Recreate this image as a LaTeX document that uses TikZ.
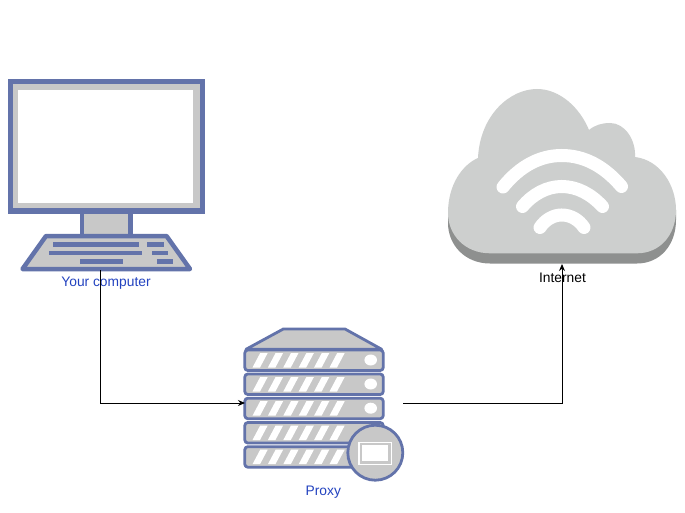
\documentclass[tikz,border=0pt]{standalone}
\usepackage{fontspec}
\setmainfont{Liberation Sans}
\usetikzlibrary{arrows.meta}
\definecolor{edgeblue}{HTML}{6373AA}
\definecolor{bodygray}{HTML}{C8C8C8}
\definecolor{cloudlight}{HTML}{CDCFCE}
\definecolor{clouddark}{HTML}{8E908F}
\definecolor{labelblue}{HTML}{2343C0}
\tikzset{
  hull/.style={draw=edgeblue,fill=bodygray,line join=round},
  thinhull/.style={hull,line width=2.8pt},
  bar/.style={fill=edgeblue,draw=none},
  stripe/.style={fill=white,draw=none},
  wave/.style={draw=white,line width=13pt,line cap=round},
  holder/.style={draw=none,fill=none,inner sep=0pt,outer sep=0pt},
  caption/.style={inner sep=0pt,font=\fontsize{13.8}{16}\selectfont},
  wire/.style={draw=black,line width=1pt,-{Stealth[length=7pt,width=6pt]}}
}
\begin{document}
\begin{tikzpicture}[x=1pt,y=-1pt]
\useasboundingbox (0,0) rectangle (685,513);
\fill[white] (0,0) rectangle (685,513);
% invisible anchors
\node[holder,minimum width=184pt,minimum height=191pt] (pc) at (100,174.5) {};
\node[holder,minimum width=158pt,minimum height=150pt] (proxy) at (324,403) {};
\node[holder,minimum width=228pt,minimum height=175pt] (cloud) at (562,176.5) {};
% computer
\draw[hull,line width=5pt,line join=miter] (10.5,81.5) rectangle (202.5,211);
\fill[white] (17.5,90) rectangle (192.5,203);
\draw[hull,line width=4.5pt,line join=miter] (82,212) rectangle (130.5,236);
\draw[hull,line width=4.5pt] (46,236) -- (166.5,236) -- (190,269) -- (22.5,269) -- cycle;
\foreach \xa/\xb/\ya in {53.3/139.3/242,147/164/242,48.7/142/250.7,151.7/168.3/250.7,80/123/259.3,156.7/173.3/259.3}{
  \fill[bar] (\xa,\ya) rectangle (\xb,\ya+4.7);
}
% proxy
\draw[thinhull] (283.3,329) -- (345,329) -- (381.7,349.3) -- (246,349.3) -- cycle;
\foreach \yy in {350,374,398.2,422.5,446.7}{
  \draw[thinhull,rounded corners=3pt] (244.8,\yy) rectangle (383.2,\yy+20.5);
  \foreach \i in {0,...,5}{
    \fill[stripe] (252.5+15.4*\i,\yy+17.5) -- (260+15.4*\i,\yy+17.5)
      -- (267.7+15.4*\i,\yy+3) -- (260.2+15.4*\i,\yy+3) -- cycle;
  }
}
\foreach \yy in {360,384,408.2}{
  \fill[white] (370.7,\yy) ellipse [x radius=6.3,y radius=5.5];
}
\draw[thinhull] (375.3,452.7) circle [radius=27.5];
\fill[white] (358.3,441.5) rectangle (392,465);
\draw[draw=bodygray,fill=white,line width=2.6pt] (361,444) rectangle (389.5,462.5);
% cloud
\fill[clouddark] (448,213) -- (448,223) .. controls (448,245) and (465,263.5) .. (490,263.5) -- (637,263.5)
  .. controls (660,263.5) and (676,245) .. (676,220) -- (676,210) -- cycle;
\fill[cloudlight] (478,158) .. controls (480,115) and (510,89) .. (537,89)
  .. controls (560,89) and (580,108) .. (589,130)
  .. controls (595,125) and (602,123) .. (610,123)
  .. controls (625,123) and (636,140) .. (635,157)
  .. controls (660,160) and (676,185) .. (676,210)
  .. controls (676,235) and (660,253.3) .. (637,253.3)
  -- (490,253.3)
  .. controls (465,253.3) and (448,235) .. (448,213)
  .. controls (448,185) and (462,165) .. (478,158) -- cycle;
\draw[wave] (503,187) .. controls (520,166) and (540,155.5) .. (561.7,155.5) .. controls (584,155.5) and (604,166) .. (621.5,186.5);
\draw[wave] (522.5,206.5) .. controls (533,194) and (547,186.5) .. (561.7,186.5) .. controls (577,186.5) and (591,194) .. (602.5,206.5);
\draw[wave] (540,227.5) .. controls (545,220) and (553,215) .. (561.7,215) .. controls (571,215) and (579,220) .. (584,227.5);
% labels
\node[caption,text=labelblue] (pclabel) at (106,283) {Your computer};
\node[caption,text=labelblue] (proxylabel) at (323.3,492) {Proxy};
\node[caption,text=black] (cloudlabel) at (562.5,278) {Internet};
% connectors
\draw[wire] (pc.south) |- (proxy.west);
\draw[wire] (proxy.east) -| (cloud.south);
\end{tikzpicture}
\end{document}
